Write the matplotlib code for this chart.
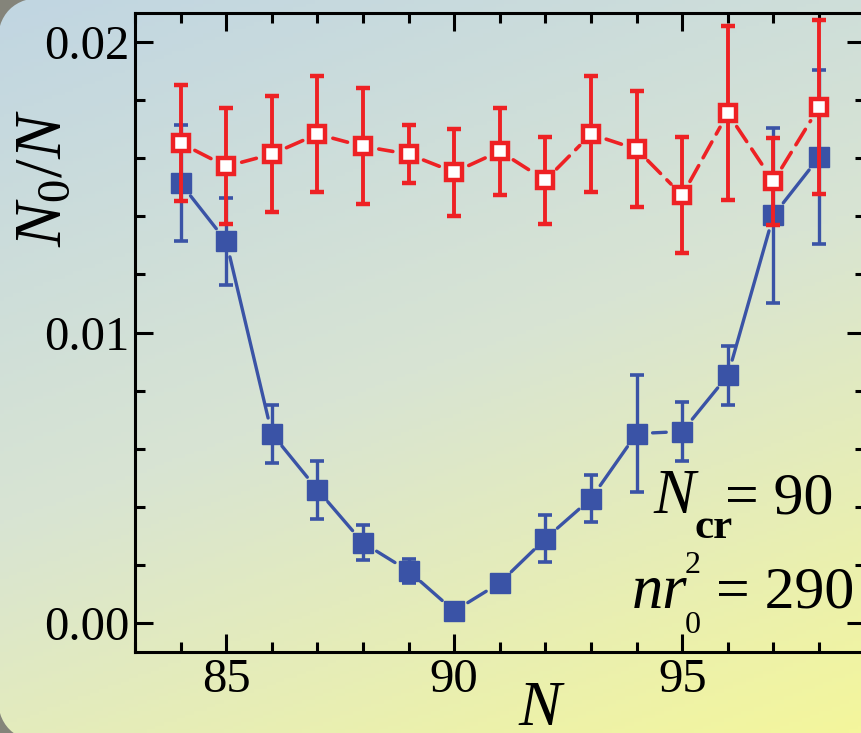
import numpy as np
import matplotlib
matplotlib.use('Agg')
import matplotlib.pyplot as plt
from matplotlib.patches import FancyBboxPatch
from matplotlib.transforms import IdentityTransform
from matplotlib.colors import LinearSegmentedColormap
from matplotlib.ticker import MultipleLocator, FormatStrFormatter

# data
N = [84, 85, 86, 87, 88, 89, 90, 91, 92, 93, 94, 95, 96, 97, 98]
red_y = [0.01652, 0.01572, 0.01614, 0.01683, 0.01641, 0.01614, 0.01552, 0.01624,
         0.01524, 0.01683, 0.01631, 0.01472, 0.01755, 0.01520, 0.01776]
red_err = [0.002, 0.002, 0.002, 0.002, 0.002, 0.001, 0.0015, 0.0015,
           0.0015, 0.002, 0.002, 0.002, 0.003, 0.0015, 0.003]
blue_y = [0.01514, 0.01314, 0.00652, 0.00459, 0.00276, 0.00179, 0.00041, 0.00138,
          0.00290, 0.00428, 0.00652, 0.00659, 0.00852, 0.01403, 0.01603]
blue_err = [0.002, 0.0015, 0.001, 0.001, 0.0006, 0.0004, 0.0, 0.0,
            0.0008, 0.0008, 0.002, 0.001, 0.001, 0.003, 0.003]

RED = '#ee2124'
BLUE = '#3a53a6'
W, H = 862, 733

plt.rcParams['font.family'] = 'Liberation Serif'
plt.rcParams['mathtext.fontset'] = 'custom'
plt.rcParams['mathtext.rm'] = 'Liberation Serif'
plt.rcParams['mathtext.it'] = 'Liberation Serif:italic'
plt.rcParams['mathtext.bf'] = 'Liberation Serif:bold'

fig = plt.figure(figsize=(W / 100, H / 100), dpi=100)
fig.patch.set_facecolor('#84847a')

# gradient background, rounded on the left corners
bg = fig.add_axes([0, 0, 1, 1], zorder=0)
bg.axis('off')
yy, xx = np.mgrid[0:1:200j, 0:1:200j]
shade = 0.7 * yy + 0.3 * xx
cmap = LinearSegmentedColormap.from_list('bg', ['#c1d6e2', '#d8e4d3', '#f4f69c'])
im = bg.imshow(shade, cmap=cmap, extent=(0, 1, 0, 1), aspect='auto', vmin=0, vmax=1)
box = FancyBboxPatch((-3, -9), 1200, 745, boxstyle='round,pad=0,rounding_size=50',
                     transform=IdentityTransform(), facecolor='none', edgecolor='none')
im.set_clip_path(box)

ax = fig.add_axes([135 / W, 81 / H, 729.6 / W, 639 / H], zorder=1)
ax.set_facecolor('none')
ax.set_xlim(83, 99)
ax.set_ylim(-0.001, 0.021)


def gapped(xs, ys, gap):
    # line pieces between points, stopping short of each marker
    pts = ax.transData.transform(np.column_stack([xs, ys]))
    inv = ax.transData.inverted()
    segs = []
    for p, q in zip(pts[:-1], pts[1:]):
        d = q - p
        u = d / np.hypot(*d)
        segs.append(inv.transform([p + u * gap, q - u * gap]))
    return segs


for s in gapped(N, blue_y, 16):
    ax.plot(s[:, 0], s[:, 1], color=BLUE, lw=2.4, solid_capstyle='round', zorder=2)
for s in gapped(N, red_y, 16):
    ax.plot(s[:, 0], s[:, 1], color=RED, lw=2.6, ls=(0, (5, 2.5)),
            dash_capstyle='round', zorder=4)

ax.errorbar(N, blue_y, yerr=blue_err, fmt='s', ms=15, color=BLUE, mec=BLUE,
            ecolor=BLUE, elinewidth=2.4, capsize=5, capthick=2.6, zorder=3)
ax.errorbar(N, red_y, yerr=red_err, fmt='s', ms=12, mfc='white', mec=RED, mew=3.2,
            ecolor=RED, elinewidth=2.8, capsize=5, capthick=3, zorder=5)

ax.xaxis.set_major_locator(MultipleLocator(5))
ax.xaxis.set_minor_locator(MultipleLocator(1))
ax.yaxis.set_major_locator(MultipleLocator(0.01))
ax.yaxis.set_minor_locator(MultipleLocator(0.002))
ax.yaxis.set_major_formatter(FormatStrFormatter('%.2f'))

ax.tick_params(which='both', direction='in', top=True, right=True, width=2.2)
ax.tick_params(which='major', length=13, labelsize=35)
ax.tick_params(which='minor', length=7)
ax.tick_params(axis='x', pad=4)
ax.tick_params(axis='y', pad=4)
for sp in ax.spines.values():
    sp.set_linewidth(2.2)


def ptext(x, y, s, **kw):
    # x, y in pixels from the top-left corner, anchored at left / baseline
    fig.text(x / W, 1 - y / H, s, ha='left', va='baseline', **kw)


ax.text(-0.125, 0.742, r'$N_0/N$', transform=ax.transAxes, rotation=90,
        ha='center', va='center', fontsize=48)
ptext(518, 725, 'N', style='italic', fontsize=46)

ptext(653, 513, 'N', style='italic', fontsize=45)
ptext(695, 538, 'cr', weight='bold', fontsize=31)
ptext(725, 513, '= 90', fontsize=43)
ptext(632, 608, 'nr', style='italic', fontsize=45)
ptext(685, 573, '2', fontsize=23)
ptext(685, 633, '0', fontsize=23)
ptext(716, 608, '= 290', fontsize=43)

fig.savefig('out.png', dpi=100, facecolor=fig.get_facecolor())
